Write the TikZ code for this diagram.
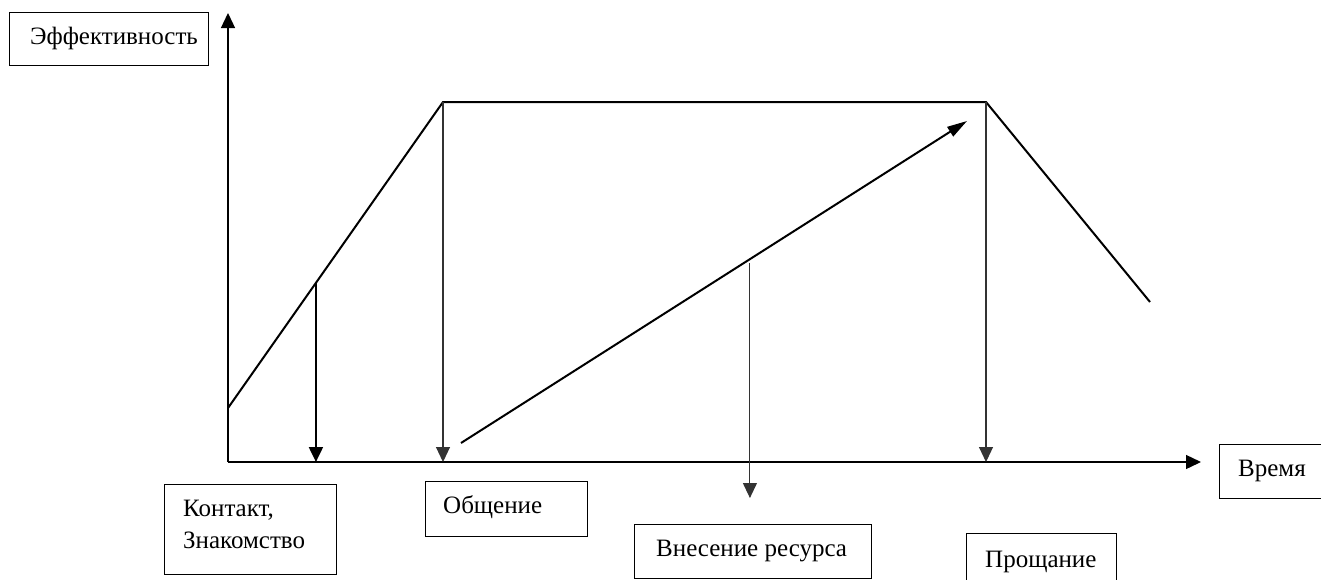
\documentclass[tikz,border=0pt]{standalone}
\usepackage{fontspec}
\setmainfont{Liberation Serif}
\usetikzlibrary{arrows.meta,calc}
\tikzset{
  boxframe/.style={draw, line width=1pt, inner sep=0pt, anchor=north west},
  lbl/.style={inner sep=0pt, anchor=west, font=\fontsize{25}{32}\selectfont, align=left},
  axis/.style={line width=1.3pt, -{Triangle[length=15pt,width=14pt]}},
  curve/.style={line width=2pt, line join=miter},
  thinarrow/.style={line width=1.1pt, draw=black!80, -{Triangle[length=15pt,width=14pt]}},
  thickarrow/.style={line width=2pt, -{Triangle[length=15pt,width=14pt]}},
  diagarrow/.style={line width=2pt, -{Triangle[length=20pt,width=11pt]}},
}
\begin{document}
\begin{tikzpicture}[x=1pt,y=-1pt]
\useasboundingbox (0,0) rectangle (1321,579);
\fill[white] (0,0) rectangle (1321,579);

% axes
\coordinate (o) at (228,462);
\coordinate (ytip) at (228,13);
\coordinate (xtip) at (1201,462);
\draw[axis] (o) -- (ytip);
\draw[axis] (o) -- (xtip);

% curve
\coordinate (c0) at (228,408);
\coordinate (c1) at (443,102);
\coordinate (c2) at (986,102);
\coordinate (c3) at (1150,302);
\draw[curve] (c0) -- (c1) -- (c2) -- (c3);

% vertical arrows
\coordinate (p1) at ($(c0)!0.409!(c1)$);
\coordinate (p1b) at (p1 |- o);
\draw[thickarrow] (p1) -- (p1b);
\coordinate (c1b) at (c1 |- o);
\draw[thinarrow] (c1) -- (c1b);
\coordinate (c2b) at (c2 |- o);
\draw[thinarrow] (c2) -- (c2b);

% diagonal arrow
\coordinate (d0) at (461,443);
\coordinate (d1) at (967,121);
\draw[diagarrow] (d0) -- (d1);
\coordinate (dm) at ($(d0)!0.571!(d1)$);
\coordinate (dmb) at ($(dm)+(0,4)$);
\coordinate (dme) at (dm |- 0,498);
\draw[thinarrow] (dmb) -- (dme);

% boxes
\node[boxframe, minimum width=199pt, minimum height=53pt] (effbox) at (9,12) {};
\node[lbl] (eff) at (30,38.5) {Эффективность};

\node[boxframe, minimum width=110pt, minimum height=54pt] (timebox) at (1219,444) {};
\node[lbl] (time) at (1238,471) {Время};

\node[boxframe, minimum width=172pt, minimum height=90pt] (kbox) at (164,484) {};
\node[lbl] (k) at (183,524) {Контакт,\\Знакомство};

\node[boxframe, minimum width=162pt, minimum height=55pt] (obox) at (425,481) {};
\node[lbl] (o1) at (443,507) {Общение};

\node[boxframe, minimum width=237pt, minimum height=54pt] (vbox) at (634,524) {};
\node[lbl] (v) at (656,551) {Внесение ресурса};

\node[boxframe, minimum width=150pt, minimum height=60pt] (pbox) at (966,533) {};
\node[lbl] (p) at (985,562) {Прощание};
\end{tikzpicture}
\end{document}
